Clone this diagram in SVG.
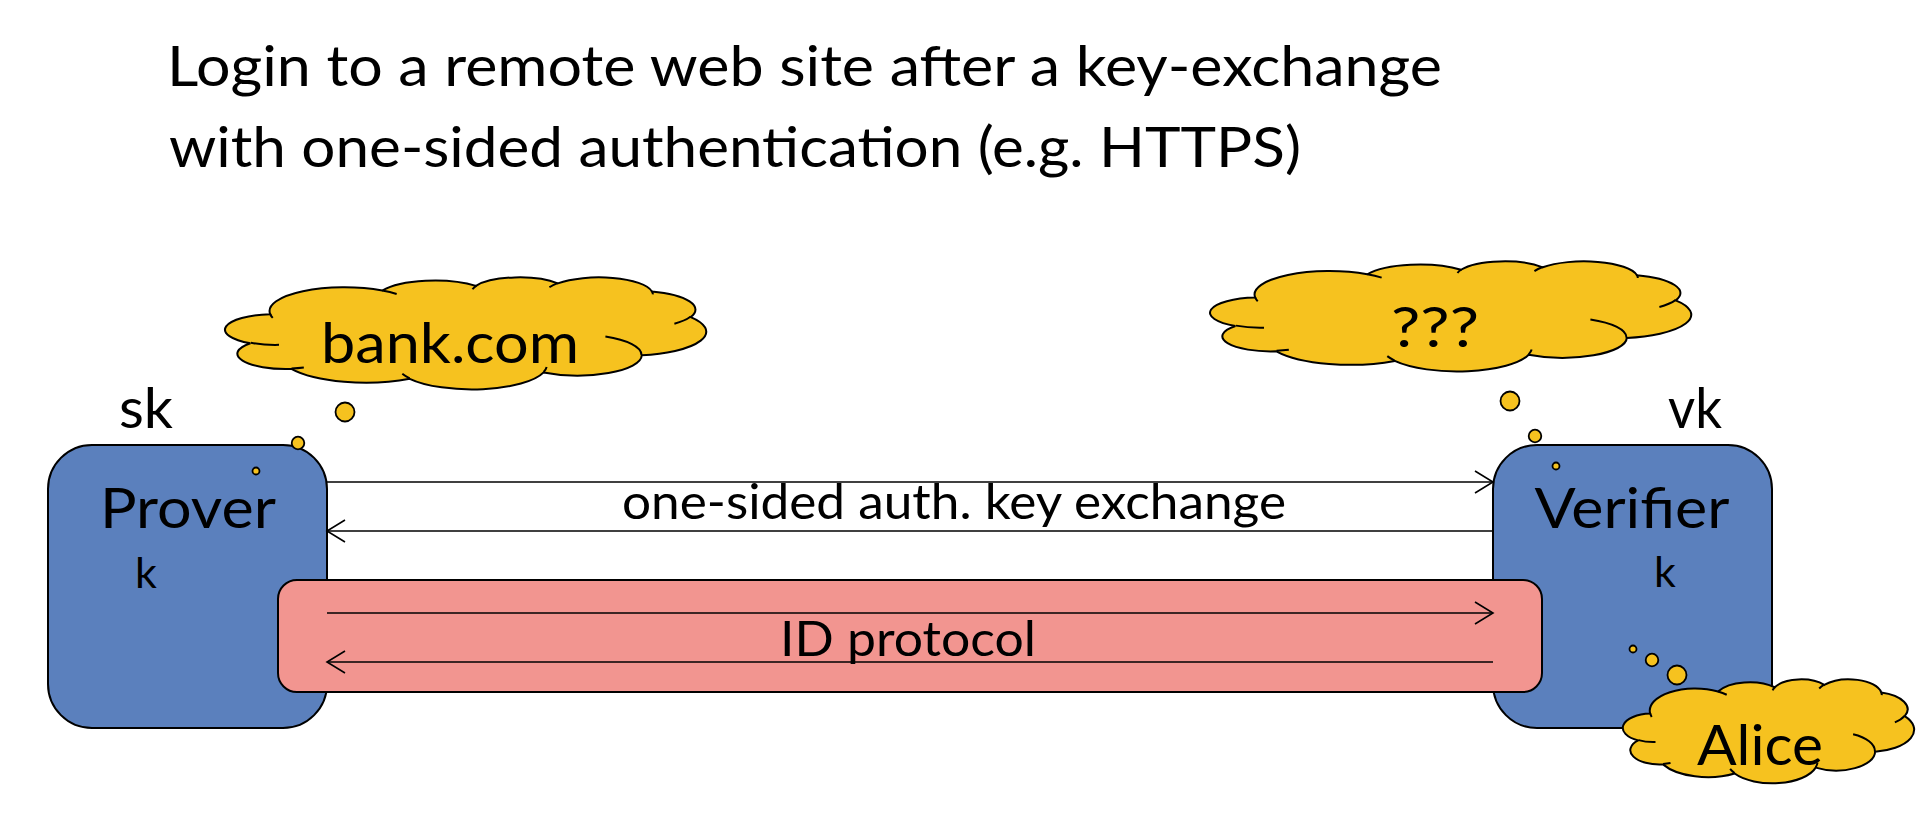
<svg xmlns="http://www.w3.org/2000/svg" width="1916" height="824" viewBox="0 0 1916 824">
<style>
.t{font-family:Lato,"Open Sans","Liberation Sans",sans-serif;fill:#000}
.box{fill:#5B80BD;stroke:#000;stroke-width:2}
.pink{fill:#F29590;stroke:#000;stroke-width:2}
.cloud{fill:#F6C21F;stroke:#000;stroke-width:2;vector-effect:non-scaling-stroke}
.cin{fill:none;stroke:#000;stroke-width:2;vector-effect:non-scaling-stroke}
.dot{fill:#F6C21F;stroke:#000;stroke-width:1.8}
.ln{stroke:#000;stroke-width:1.6;fill:none;marker-end:url(#ah)}
</style>
<defs>
<marker id="ah" markerUnits="userSpaceOnUse" markerWidth="24" markerHeight="26" viewBox="-21 -13 24 26" refX="0" refY="0" orient="auto"><path d="M-18,-11 L0,0 L-18,11" fill="none" stroke="#000" stroke-width="1.6"/></marker>
<g id="cloud">
<path class="cloud" vector-effect="non-scaling-stroke" d="M9.03,33.26 A15.63,21.27 0 0 1 32.42,12.04 A12.34,16.82 0 0 1 51.98,7.94 A10.10,13.76 0 0 1 69.06,5.73 A11.24,15.27 0 0 1 88.70,12.89 A12.34,16.84 0 0 1 96.80,35.77 A15.68,21.34 0 0 1 86.59,69.90 A13.39,18.21 0 0 1 66.10,85.20 A15.63,21.33 0 0 1 38.15,90.88 A17.87,24.41 0 0 1 13.44,82.09 A10.09,13.70 0 0 1 4.89,59.12 A10.06,13.76 0 0 1 9.03,33.26 Z"/>
<path class="cin" vector-effect="non-scaling-stroke" d="M10.86,60.59 A10.06,13.76 0 0 1 5.00,58.75 M16.04,80.78 A10.09,13.70 0 0 1 13.47,81.67 M38.14,90.49 A15.63,21.33 0 0 1 36.60,86.45 M66.73,80.44 A15.63,21.33 0 0 1 66.11,84.86 M79.00,53.13 A13.39,18.21 0 0 1 86.53,69.65 M96.75,35.54 A12.34,16.84 0 0 1 93.40,41.74 M88.71,12.56 A11.24,15.27 0 0 1 88.89,15.49 M67.31,9.15 A11.24,15.27 0 0 1 69.03,5.42 M51.25,10.93 A10.10,13.76 0 0 1 52.08,7.71 M32.41,12.02 A15.63,21.27 0 0 1 35.42,15.14 M9.55,36.55 A15.63,21.27 0 0 1 9.03,33.27"/>
</g>
</defs>
<rect width="1916" height="824" fill="#fff"/>

<g id="title">
<text class="t" x="167" y="86" font-size="57" textLength="1275" lengthAdjust="spacingAndGlyphs">Login to a remote web site after a key-exchange</text>
<text class="t" x="169" y="167" font-size="57" textLength="1132" lengthAdjust="spacingAndGlyphs">with one-sided authentication (e.g. HTTPS)</text>
</g>

<g id="prover">
<rect class="box" x="48" y="445" width="279" height="283" rx="44" ry="44"/>
<text class="t" x="188" y="528" font-size="57" text-anchor="middle" textLength="176" lengthAdjust="spacingAndGlyphs">Prover</text>
<text class="t" x="146" y="588" font-size="43" text-anchor="middle">k</text>
<text class="t" x="146" y="428" font-size="57" text-anchor="middle" textLength="54" lengthAdjust="spacingAndGlyphs">sk</text>
</g>

<g id="verifier">
<rect class="box" x="1493" y="445" width="279" height="283" rx="44" ry="44"/>
<text class="t" x="1632" y="528" font-size="57" text-anchor="middle" textLength="195" lengthAdjust="spacingAndGlyphs">Verifier</text>
<text class="t" x="1665" y="587" font-size="43" text-anchor="middle">k</text>
<text class="t" x="1695" y="428" font-size="57" text-anchor="middle" textLength="54" lengthAdjust="spacingAndGlyphs">vk</text>
</g>

<g id="id-protocol">
<rect class="pink" x="278" y="580" width="1264" height="112" rx="19" ry="19"/>
<text class="t" x="908" y="656" font-size="49" text-anchor="middle" textLength="256" lengthAdjust="spacingAndGlyphs">ID protocol</text>
</g>

<g id="key-exchange-label">
<text class="t" x="954" y="519" font-size="49" text-anchor="middle" textLength="664" lengthAdjust="spacingAndGlyphs">one-sided auth. key exchange</text>
</g>

<g id="connectors">
<line class="ln" x1="327" y1="482" x2="1493" y2="482"/>
<line class="ln" x1="1493" y1="531" x2="327" y2="531"/>
<line class="ln" x1="327" y1="613" x2="1493" y2="613"/>
<line class="ln" x1="1493" y1="662" x2="327" y2="662"/>
</g>

<g id="cloud-bank">
<use href="#cloud" transform="translate(227,277) scale(4.79,1.12)"/>
<text class="t" x="450" y="363" font-size="57" text-anchor="middle" textLength="258" lengthAdjust="spacingAndGlyphs">bank.com</text>
<circle class="dot" cx="345" cy="412" r="9.5"/>
<circle class="dot" cx="298" cy="443" r="6.3"/>
<circle class="dot" cx="256" cy="471" r="3.5"/>
</g>

<g id="cloud-unknown">
<use href="#cloud" transform="translate(1212,261) scale(4.79,1.10)"/>
<text class="t" x="1435" y="347" font-size="57" text-anchor="middle" textLength="88" lengthAdjust="spacingAndGlyphs">???</text>
<circle class="dot" cx="1510" cy="401" r="9.5"/>
<circle class="dot" cx="1535" cy="436" r="6.3"/>
<circle class="dot" cx="1556" cy="466" r="3.5"/>
</g>

<g id="cloud-alice">
<circle class="dot" cx="1633" cy="649" r="3.5"/>
<circle class="dot" cx="1652" cy="660" r="6.3"/>
<circle class="dot" cx="1677" cy="675" r="9.5"/>
<use href="#cloud" transform="translate(1624,679) scale(2.90,1.04)"/>
<text class="t" x="1760" y="765" font-size="57" text-anchor="middle" textLength="126" lengthAdjust="spacingAndGlyphs">Alice</text>
</g>
</svg>
